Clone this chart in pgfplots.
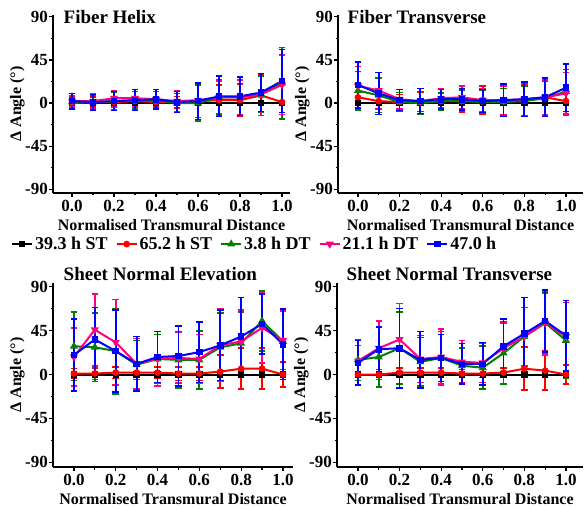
\documentclass[border=0pt]{standalone}
\usepackage{fontspec}
\setmainfont{Liberation Serif}
\usepackage{pgfplots}
\pgfplotsset{compat=1.18}

\definecolor{cred}{RGB}{255,0,0}
\definecolor{cgreen}{RGB}{0,128,0}
\definecolor{cpink}{RGB}{255,0,128}
\definecolor{cblue}{RGB}{0,0,255}

\tikzset{ttl/.style={anchor=west, font=\fontsize{19}{19}\selectfont\bfseries}}

\pgfplotsset{
  panel/.style={
    scale only axis, clip=false, anchor=south west,
    axis x line*=bottom, axis y line*=left,
    axis line style={line width=1.6pt},
    xtick={0,0.2,0.4,0.6,0.8,1}, xticklabels={0.0,0.2,0.4,0.6,0.8,1.0},
    minor xtick={0.1,0.3,0.5,0.7,0.9},
    ytick={-90,-45,0,45,90}, yticklabels={-90,-45,0,45,90},
    minor ytick={-67.5,-22.5,22.5,67.5},
    tick align=outside, major tick length=4pt, minor tick length=2.5pt,
    tick style={black, line width=1.2pt},
    ticklabel style={font=\fontsize{17}{17}\selectfont\bfseries},
    yticklabel style={inner sep=1pt},
    label style={font=\fontsize{16}{16}\selectfont\bfseries},
    ylabel style={yshift=-4pt},
    xlabel={Normalised Transmural Distance},
    ylabel={Δ Angle (°)},
  },
  eb/.style={error bars/.cd, y dir=both, y explicit,
    error bar style={line width=1.8pt},
    error mark options={rotate=90, mark size=3.3pt, line width=1.6pt}},
  sK/.style={black, line width=2pt, mark=square*, mark size=2.2pt},
  sR/.style={cred, line width=2pt, mark=*, mark size=2.3pt, eb},
  sG/.style={cgreen, line width=2pt, mark=triangle*, mark size=2.7pt, eb},
  sP/.style={cpink, line width=2pt, mark=triangle*, mark options={rotate=180}, mark size=2.7pt, eb},
  sB/.style={cblue, line width=2pt, mark=square*, mark size=2.3pt, eb},
}

\begin{document}
\begin{tikzpicture}
\path[use as bounding box] (0pt,0pt) rectangle (585pt,508pt);

% Fiber Helix
\begin{axis}[panel, at={(53pt,315pt)}, width=237pt, height=178pt,
  xmin=-0.0905, xmax=1.038, ymin=-94, ymax=92,
  legend entries={39.3 h ST, 65.2 h ST, 3.8 h DT, 21.1 h DT, 47.0 h},
  legend columns=5,
  legend style={at={(axis description cs:-0.19,-0.287)}, anchor=west, draw=none, fill=none,
    font=\fontsize{18}{18}\selectfont\bfseries,
    /tikz/every even column/.append style={column sep=6pt}},
  legend image code/.code={\draw[mark repeat=2,mark phase=2] plot coordinates {(0pt,0pt) (10pt,0pt) (20pt,0pt)};},
]
\addplot[sK] coordinates {(0,0) (0.1,0) (0.2,0) (0.3,0) (0.4,0) (0.5,0) (0.6,0) (0.7,0) (0.8,0) (0.9,0) (1,0)};
\addplot[sR] coordinates {(0,0) +- (0,6) (0.1,1) +- (0,5) (0.2,1) +- (0,5) (0.3,2) +- (0,5) (0.4,1) +- (0,5) (0.5,1) +- (0,6) (0.6,2) +- (0,17) (0.7,3) +- (0,16) (0.8,3) +- (0,17) (0.9,8) +- (0,21) (1,1) +- (0,18)};
\addplot[sG] coordinates {(0,1) +- (0,7) (0.1,1) +- (0,7) (0.2,2) +- (0,9) (0.3,3) +- (0,9) (0.4,3) +- (0,9) (0.5,0) +- (0,10) (0.6,0) +- (0,19) (0.7,6) +- (0,18) (0.8,6) +- (0,18) (0.9,9) +- (0,19) (1,21) +- (0,37)};
\addplot[sP] coordinates {(0,2) +- (0,6) (0.1,2) +- (0,8) (0.2,5) +- (0,8) (0.3,5) +- (0,9) (0.4,4) +- (0,10) (0.5,2) +- (0,11) (0.6,3) +- (0,18) (0.7,6) +- (0,17) (0.8,6) +- (0,18) (0.9,9) +- (0,22) (1,19) +- (0,31)};
\addplot[sB] coordinates {(0,2) +- (0,8) (0.1,1) +- (0,8) (0.2,2) +- (0,10) (0.3,3) +- (0,11) (0.4,4) +- (0,10) (0.5,1) +- (0,11) (0.6,2) +- (0,19) (0.7,7) +- (0,21) (0.8,7) +- (0,20) (0.9,11) +- (0,20) (1,23) +- (0,33)};
\node[ttl] at (axis description cs:0.03,0.989) {Fiber Helix};
\end{axis}

% Fiber Transverse
\begin{axis}[panel, at={(338pt,315pt)}, width=245pt, height=178pt,
  xmin=-0.096, xmax=1.082, ymin=-94, ymax=92]
\addplot[sK] coordinates {(0,0) (0.1,0) (0.2,0) (0.3,0) (0.4,0) (0.5,0) (0.6,0) (0.7,0) (0.8,0) (0.9,0) (1,0)};
\addplot[sR] coordinates {(0,6) +- (0,14) (0.1,2) +- (0,12) (0.2,1) +- (0,8) (0.3,1) +- (0,10) (0.4,2) +- (0,8) (0.5,2) +- (0,12) (0.6,3) +- (0,15) (0.7,2) +- (0,16) (0.8,3) +- (0,16) (0.9,6) +- (0,18) (1,2) +- (0,15)};
\addplot[sG] coordinates {(0,13) +- (0,20) (0.1,8) +- (0,18) (0.2,1) +- (0,10) (0.3,0) +- (0,12) (0.4,2) +- (0,9) (0.5,2) +- (0,11) (0.6,1) +- (0,12) (0.7,1) +- (0,14) (0.8,2) +- (0,16) (0.9,5) +- (0,18) (1,12) +- (0,23)};
\addplot[sP] coordinates {(0,18) +- (0,20) (0.1,13) +- (0,19) (0.2,4) +- (0,10) (0.3,2) +- (0,13) (0.4,5) +- (0,10) (0.5,6) +- (0,12) (0.6,3) +- (0,12) (0.7,3) +- (0,15) (0.8,4) +- (0,17) (0.9,6) +- (0,18) (1,10) +- (0,22)};
\addplot[sB] coordinates {(0,19) +- (0,24) (0.1,10) +- (0,22) (0.2,3) +- (0,11) (0.3,2) +- (0,13) (0.4,4) +- (0,10) (0.5,4) +- (0,11) (0.6,2) +- (0,12) (0.7,3) +- (0,17) (0.8,4) +- (0,18) (0.9,6) +- (0,20) (1,16) +- (0,25)};
\node[ttl] at (axis description cs:0.025,0.989) {Fiber Transverse};
\end{axis}

% Sheet Normal Elevation
\begin{axis}[panel, at={(53pt,41pt)}, width=240pt, height=184pt,
  xmin=-0.1, xmax=1.048, ymin=-95, ymax=94]
\addplot[sK] coordinates {(0,0) (0.1,0) (0.2,0) (0.3,0) (0.4,0) (0.5,0) (0.6,0) (0.7,0) (0.8,0) (0.9,0) (1,0)};
\addplot[sR] coordinates {(0,1) +- (0,5) (0.1,1) +- (0,6) (0.2,2) +- (0,6) (0.3,2) +- (0,7) (0.4,2) +- (0,6) (0.5,1) +- (0,7) (0.6,1) +- (0,7) (0.7,3) +- (0,17) (0.8,6) +- (0,21) (0.9,6) +- (0,21) (1,0) +- (0,13)};
\addplot[sG] coordinates {(0,29) +- (0,35) (0.1,28) +- (0,35) (0.2,24) +- (0,44) (0.3,10) +- (0,25) (0.4,16) +- (0,25) (0.5,15) +- (0,29) (0.6,15) +- (0,30) (0.7,28) +- (0,35) (0.8,32) +- (0,32) (0.9,55) +- (0,31) (1,34) +- (0,33)};
\addplot[sP] coordinates {(0,18) +- (0,30) (0.1,46) +- (0,37) (0.2,33) +- (0,44) (0.3,11) +- (0,26) (0.4,16) +- (0,28) (0.5,17) +- (0,26) (0.6,16) +- (0,25) (0.7,30) +- (0,37) (0.8,34) +- (0,32) (0.9,48) +- (0,36) (1,35) +- (0,30)};
\addplot[sB] coordinates {(0,20) +- (0,37) (0.1,36) +- (0,33) (0.2,24) +- (0,42) (0.3,11) +- (0,28) (0.4,18) +- (0,26) (0.5,19) +- (0,31) (0.6,23) +- (0,31) (0.7,30) +- (0,36) (0.8,39) +- (0,40) (0.9,52) +- (0,31) (1,31) +- (0,36)};
\node[ttl] at (axis description cs:0.03,1.05) {Sheet Normal Elevation};
\end{axis}

% Sheet Normal Transverse
\begin{axis}[panel, at={(337pt,41pt)}, width=246pt, height=184pt,
  xmin=-0.101, xmax=1.082, ymin=-95, ymax=94]
\addplot[sK] coordinates {(0,0) (0.1,0) (0.2,0) (0.3,0) (0.4,0) (0.5,0) (0.6,0) (0.7,0) (0.8,0) (0.9,0) (1,0)};
\addplot[sR] coordinates {(0,0) +- (0,3) (0.1,0) +- (0,5) (0.2,2) +- (0,5) (0.3,2) +- (0,5) (0.4,2) +- (0,5) (0.5,1) +- (0,4) (0.6,1) +- (0,4) (0.7,2) +- (0,5) (0.8,6) +- (0,22) (0.9,4) +- (0,20) (1,0) +- (0,10)};
\addplot[sG] coordinates {(0,15) +- (0,21) (0.1,18) +- (0,31) (0.2,27) +- (0,37) (0.3,13) +- (0,25) (0.4,17) +- (0,27) (0.5,9) +- (0,18) (0.6,7) +- (0,22) (0.7,22) +- (0,32) (0.8,39) +- (0,30) (0.9,53) +- (0,31) (1,35) +- (0,39)};
\addplot[sP] coordinates {(0,14) +- (0,16) (0.1,27) +- (0,28) (0.2,36) +- (0,37) (0.3,16) +- (0,24) (0.4,18) +- (0,29) (0.5,13) +- (0,22) (0.6,12) +- (0,20) (0.7,27) +- (0,26) (0.8,39) +- (0,30) (0.9,53) +- (0,33) (1,39) +- (0,35)};
\addplot[sB] coordinates {(0,12) +- (0,23) (0.1,26) +- (0,23) (0.2,27) +- (0,41) (0.3,15) +- (0,29) (0.4,17) +- (0,24) (0.5,11) +- (0,21) (0.6,11) +- (0,22) (0.7,29) +- (0,28) (0.8,42) +- (0,37) (0.9,55) +- (0,32) (1,40) +- (0,36)};
\node[ttl] at (axis description cs:0.025,1.05) {Sheet Normal Transverse};
\end{axis}
\end{tikzpicture}
\end{document}
